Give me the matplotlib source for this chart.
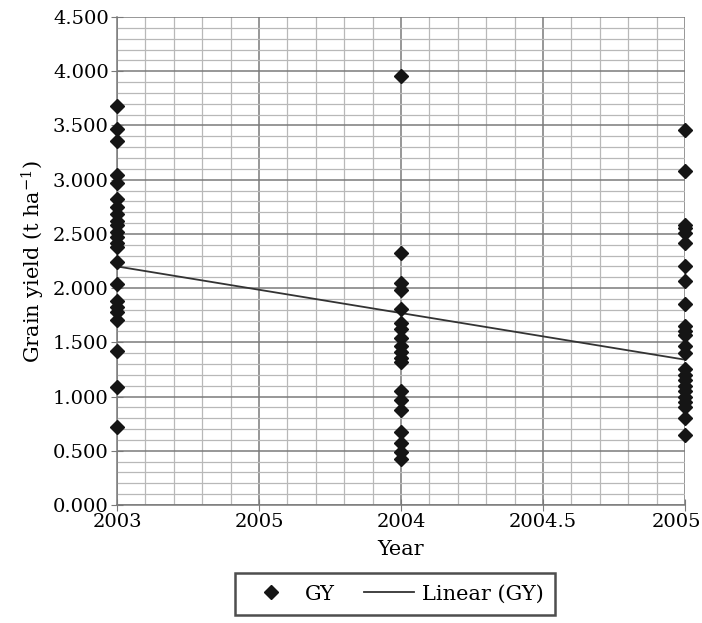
import numpy as np
import matplotlib
matplotlib.use('Agg')
import matplotlib.pyplot as plt
import matplotlib.transforms as mtransforms
from matplotlib.ticker import MultipleLocator, FormatStrFormatter

# category positions on the x axis and their (odd) tick labels
x_ticks = [0, 1, 2, 3, 4]
x_tick_labels = ['2003', '2005', '2004', '2004.5', '2005']

# grain yield observations (t/ha) per year
gy_2003 = [3.68, 3.47, 3.36, 3.04, 2.97, 2.82, 2.75, 2.68, 2.62, 2.58, 2.52,
           2.47, 2.42, 2.38, 2.24, 2.04, 1.88, 1.83, 1.78, 1.71, 1.42, 1.09, 0.72]
gy_2004 = [3.96, 2.32, 2.05, 1.98, 1.81, 1.68, 1.62, 1.54, 1.47, 1.41, 1.36,
           1.32, 1.05, 0.97, 0.88, 0.67, 0.57, 0.49, 0.42]
gy_2005 = [3.46, 3.08, 2.58, 2.55, 2.51, 2.42, 2.20, 2.07, 1.85, 1.65, 1.60,
           1.57, 1.47, 1.40, 1.25, 1.20, 1.15, 1.10, 1.05, 1.00, 0.95, 0.90,
           0.80, 0.65]
year_pos = [0, 2, 4]

# linear trend (GY) as drawn in the original
trend_x = [0, 4]
trend_y = [2.20, 1.34]

plt.rcParams['font.family'] = 'DejaVu Serif'
plt.rcParams['mathtext.fontset'] = 'dejavuserif'

fig = plt.figure(figsize=(7.02, 6.23), dpi=100)
ax = fig.add_axes([0.1667, 0.1894, 0.8091, 0.7833])

xs, ys = [], []
for pos, vals in zip(year_pos, [gy_2003, gy_2004, gy_2005]):
    xs += [pos] * len(vals)
    ys += vals

ax.plot(xs, ys, linestyle='none', marker='D', markersize=7,
        color='#151515', label='GY', zorder=4, clip_on=False)
ax.plot(trend_x, trend_y, color='#333333', lw=1.3, label='Linear (GY)', zorder=3)

ax.set_xlim(0, 4)
ax.set_ylim(0, 4.5)
ax.set_xticks(x_ticks)
ax.set_xticklabels(x_tick_labels)
ax.xaxis.set_minor_locator(MultipleLocator(0.2))
ax.yaxis.set_major_locator(MultipleLocator(0.5))
ax.yaxis.set_minor_locator(MultipleLocator(0.1))
ax.yaxis.set_major_formatter(FormatStrFormatter('%.3f'))

ax.grid(which='major', color='#7a7a7a', lw=1.1, zorder=0)
ax.grid(which='minor', color='#b8b8b8', lw=0.9, zorder=0)
ax.set_axisbelow(True)

for side in ['top', 'right']:
    ax.spines[side].set_visible(False)
for side in ['left', 'bottom']:
    ax.spines[side].set_color('#7a7a7a')
    ax.spines[side].set_linewidth(1.1)

ax.tick_params(axis='both', which='major', direction='inout', length=8,
               color='#7a7a7a', labelsize=14, pad=2)
ax.tick_params(axis='both', which='minor', length=0)

# last x label sits a bit inward so it stays inside the figure
last = ax.get_xticklabels()[-1]
last.set_transform(last.get_transform() +
                   mtransforms.ScaledTranslation(-6 / 72, 0, fig.dpi_scale_trans))

ax.set_xlabel('Year', fontsize=15, labelpad=6)
ax.set_ylabel('Grain yield (t ha$^{-1}$)', fontsize=15, labelpad=4)

leg = fig.legend(loc='center', bbox_to_anchor=(0.563, 0.0465), ncol=2,
                 fontsize=15, frameon=True, fancybox=False, handlelength=2.4,
                 columnspacing=1.4, handletextpad=0.4, borderpad=0.55,
                 borderaxespad=0)
leg.get_frame().set_edgecolor('#222222')
leg.get_frame().set_linewidth(1.8)

fig.savefig('out.png', dpi=100)
